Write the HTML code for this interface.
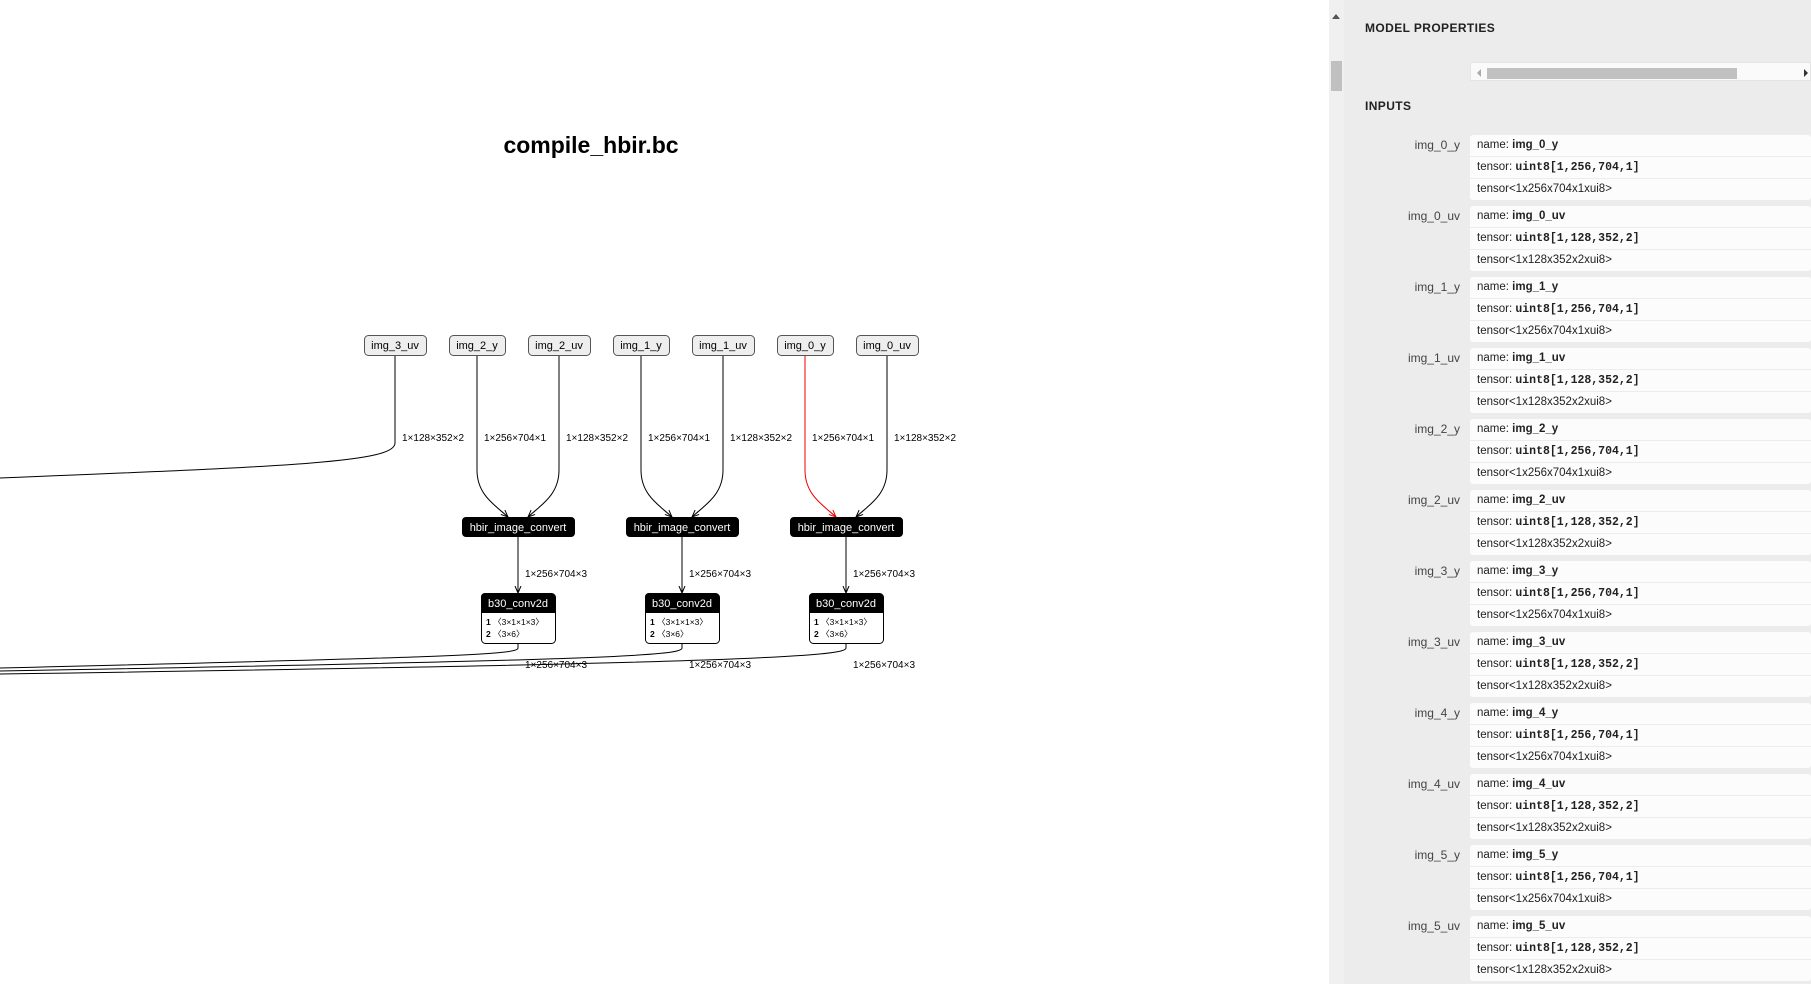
<!DOCTYPE html>
<html><head><meta charset="utf-8"><style>
html,body{margin:0;padding:0;width:1811px;height:984px;overflow:hidden;background:#fff;font-family:"Liberation Sans","DejaVu Sans",sans-serif;}
#side{position:absolute;left:1329px;top:0;width:482px;height:984px;background:#ececec;}
#sb{position:absolute;left:0;top:0;width:15px;height:984px;background:#f0f0f0;}
.h{position:absolute;left:36px;font-weight:bold;font-size:12px;color:#222;letter-spacing:0.4px;}
.lab{position:absolute;left:0;width:131px;text-align:right;font-size:12px;color:#444;}
.card{position:absolute;left:141px;width:341px;height:65px;background:#fcfcfc;border-radius:3px;}
.card div{height:21px;line-height:21px;font-size:11.5px;color:#222;padding-left:7px;border-bottom:1px solid #ececec;white-space:nowrap;}
.card div:last-child{border-bottom:none;}
.mono{font-family:"Liberation Mono",monospace;font-weight:bold;}
</style></head><body>
<svg width="1329" height="984" style="position:absolute;left:0;top:0" font-family="Liberation Sans, DejaVu Sans, sans-serif">
<defs><marker id="a" markerWidth="8" markerHeight="8" refX="7" refY="4" orient="auto" markerUnits="userSpaceOnUse"><path d="M0,1 L7,4 L0,7" fill="none" stroke="#000" stroke-width="1"/></marker>
<marker id="r" markerWidth="8" markerHeight="8" refX="7" refY="4" orient="auto" markerUnits="userSpaceOnUse"><path d="M0,1 L7,4 L0,7" fill="none" stroke="#e00" stroke-width="1"/></marker></defs>
<text x="591" y="153" font-size="23" font-weight="bold" text-anchor="middle">compile_hbir.bc</text>
<g fill="none" stroke="#000" stroke-width="1">
<path d="M395,355 L395,443 C395,462 300,466 0,478"/>
<path d="M477,355 L477,470 C477,495 495,505 508,517" marker-end="url(#a)"/>
<path d="M559,355 L559,470 C559,495 541,505 528,517" marker-end="url(#a)"/>
<path d="M641,355 L641,470 C641,495 659,505 672,517" marker-end="url(#a)"/>
<path d="M723,355 L723,470 C723,495 705,505 692,517" marker-end="url(#a)"/>
<path d="M805,355 L805,470 C805,495 823,505 836,517" stroke="#e00" marker-end="url(#r)"/>
<path d="M887,355 L887,470 C887,495 869,505 856,517" marker-end="url(#a)"/>
<path d="M518,537 L518,593" marker-end="url(#a)"/>
<path d="M682,537 L682,593" marker-end="url(#a)"/>
<path d="M846,537 L846,593" marker-end="url(#a)"/>
<path d="M518,643 L518,648 C518,655 450,657 0,668"/>
<path d="M682,643 L682,648 C682,656 600,660 0,671"/>
<path d="M846,643 L846,648 C846,656 760,663 0,674"/>
</g>
<g font-size="10" fill="#000">
<text x="402" y="441">1×128×352×2</text><text x="484" y="441">1×256×704×1</text><text x="566" y="441">1×128×352×2</text>
<text x="648" y="441">1×256×704×1</text><text x="730" y="441">1×128×352×2</text><text x="812" y="441">1×256×704×1</text><text x="894" y="441">1×128×352×2</text>
<text x="525" y="577">1×256×704×3</text><text x="689" y="577">1×256×704×3</text><text x="853" y="577">1×256×704×3</text>
<text x="525" y="668">1×256×704×3</text><text x="689" y="668">1×256×704×3</text><text x="853" y="668">1×256×704×3</text>
</g>
<g font-size="11" text-anchor="middle">
<g fill="#eee" stroke="#555" stroke-width="1">
<rect x="364.5" y="335.5" width="62" height="20" rx="4"/><rect x="449.5" y="335.5" width="56" height="20" rx="4"/><rect x="528.5" y="335.5" width="62" height="20" rx="4"/>
<rect x="613.5" y="335.5" width="56" height="20" rx="4"/><rect x="692.5" y="335.5" width="62" height="20" rx="4"/><rect x="777.5" y="335.5" width="56" height="20" rx="4"/><rect x="856.5" y="335.5" width="62" height="20" rx="4"/>
</g>
<text x="395" y="349">img_3_uv</text><text x="477" y="349">img_2_y</text><text x="559" y="349">img_2_uv</text><text x="641" y="349">img_1_y</text><text x="723" y="349">img_1_uv</text><text x="805" y="349">img_0_y</text><text x="887" y="349">img_0_uv</text>
<g fill="#000"><rect x="462" y="517" width="113" height="20" rx="4"/><rect x="626" y="517" width="113" height="20" rx="4"/><rect x="790" y="517" width="113" height="20" rx="4"/></g>
<g fill="#fff"><text x="518" y="531">hbir_image_convert</text><text x="682" y="531">hbir_image_convert</text><text x="846" y="531">hbir_image_convert</text></g>
<g fill="#fff" stroke="#000"><rect x="481.5" y="593.5" width="74" height="50" rx="4"/><rect x="645.5" y="593.5" width="74" height="50" rx="4"/><rect x="809.5" y="593.5" width="74" height="50" rx="4"/></g>
<g fill="#000"><path d="M481,597 a4,4 0 0 1 4,-4 h66 a4,4 0 0 1 4,4 v16 h-74z"/><path d="M645,597 a4,4 0 0 1 4,-4 h66 a4,4 0 0 1 4,4 v16 h-74z"/><path d="M809,597 a4,4 0 0 1 4,-4 h66 a4,4 0 0 1 4,4 v16 h-74z"/></g>
<g fill="#fff"><text x="518" y="607">b30_conv2d</text><text x="682" y="607">b30_conv2d</text><text x="846" y="607">b30_conv2d</text></g>
</g>
<g font-size="8.5" fill="#000">
<text x="486" y="625"><tspan font-weight="bold">1</tspan> 〈3×1×1×3〉</text><text x="486" y="637"><tspan font-weight="bold">2</tspan> 〈3×6〉</text>
<text x="650" y="625"><tspan font-weight="bold">1</tspan> 〈3×1×1×3〉</text><text x="650" y="637"><tspan font-weight="bold">2</tspan> 〈3×6〉</text>
<text x="814" y="625"><tspan font-weight="bold">1</tspan> 〈3×1×1×3〉</text><text x="814" y="637"><tspan font-weight="bold">2</tspan> 〈3×6〉</text>
</g>
</svg>
<div id="side">
<div id="sb"><div style="position:absolute;left:3px;top:14px;width:0;height:0;border-left:4px solid transparent;border-right:4px solid transparent;border-bottom:5px solid #555"></div><div style="position:absolute;left:2px;top:61px;width:11px;height:30px;background:#c0c0c0"></div></div>
<div class="h" style="top:21px">MODEL PROPERTIES</div>
<div style="position:absolute;left:141px;top:62px;width:341px;height:19px;background:#fafafa;border:1px solid #e4e4e4;box-sizing:border-box">
<div style="position:absolute;left:16px;top:5px;width:250px;height:11px;background:#c1c1c1"></div>
<div style="position:absolute;left:6px;top:6px;border-top:4px solid transparent;border-bottom:4px solid transparent;border-right:4px solid #aaa"></div>
<div style="position:absolute;right:2px;top:6px;border-top:4px solid transparent;border-bottom:4px solid transparent;border-left:4px solid #333"></div></div>
<div class="h" style="top:99px">INPUTS</div>
<div id="rows"></div>
</div>
<script>
var n=[];for(var i=0;i<6;i++){n.push(['img_'+i+'_y','uint8[1,256,704,1]','tensor&lt;1x256x704x1xui8&gt;']);n.push(['img_'+i+'_uv','uint8[1,128,352,2]','tensor&lt;1x128x352x2xui8&gt;']);}
var h='';n.forEach(function(r,k){var t=135+k*71;h+='<div class="lab" style="top:'+(t+3)+'px">'+r[0]+'</div><div class="card" style="top:'+t+'px"><div>name: <b>'+r[0]+'</b></div><div>tensor: <span class="mono">'+r[1]+'</span></div><div>'+r[2]+'</div></div>';});
document.getElementById('rows').innerHTML=h;
</script>
</body></html>
